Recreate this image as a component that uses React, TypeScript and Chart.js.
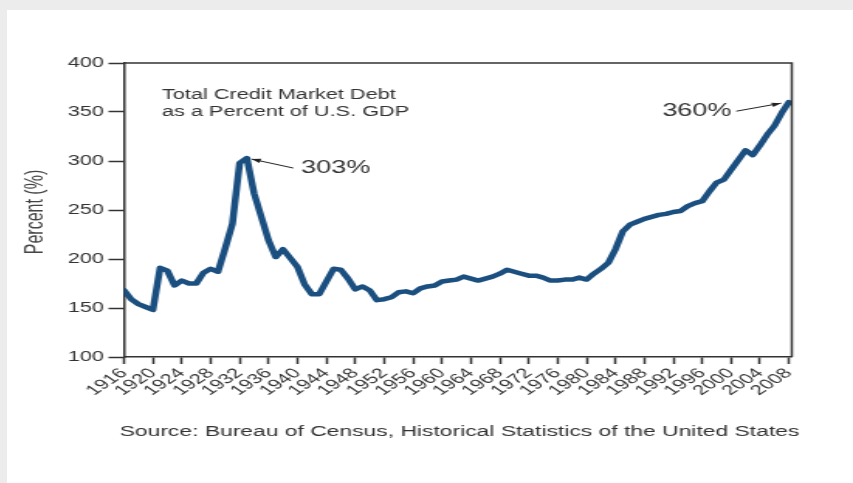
import React, { useEffect, useRef } from "react";
import { Chart, registerables } from "chart.js";

Chart.register(...registerables);

const years = [
  1916, 1917, 1918, 1919, 1920, 1921, 1922, 1923, 1924, 1925,
  1926, 1927, 1928, 1929, 1930, 1931, 1932, 1933, 1934, 1935,
  1936, 1937, 1938, 1939, 1940, 1941, 1942, 1943, 1944, 1945,
  1946, 1947, 1948, 1949, 1950, 1951, 1952, 1953, 1954, 1955,
  1956, 1957, 1958, 1959, 1960, 1961, 1962, 1963, 1964, 1965,
  1966, 1967, 1968, 1969, 1970, 1971, 1972, 1973, 1974, 1975,
  1976, 1977, 1978, 1979, 1980, 1981, 1982, 1983, 1984, 1985,
  1986, 1987, 1988, 1989, 1990, 1991, 1992, 1993, 1994, 1995,
  1996, 1997, 1998, 1999, 2000, 2001, 2002, 2003, 2004, 2005,
  2006, 2007, 2008,
];

const debtPctGdp = [
  168, 159, 154, 151, 148, 191, 188, 173, 178, 175,
  175, 186, 190, 187, 211, 236, 298, 303, 267, 243,
  219, 202, 210, 201, 192, 174, 164, 164, 177, 190,
  189, 180, 169, 172, 168, 158, 159, 161, 166, 167,
  165, 170, 172, 173, 177, 178, 179, 182, 180, 178,
  180, 182, 185, 189, 187, 185, 183, 183, 181, 178,
  178, 179, 179, 181, 179, 185, 190, 196, 210, 228,
  235, 238, 241, 243, 245, 246, 248, 249, 254, 257,
  259, 269, 278, 281, 291, 301, 311, 306, 316, 327,
  336, 349, 360,
];

const yTickValues = [100, 150, 200, 250, 300, 350, 400];

const xTickYears = [
  1916, 1920, 1924, 1928, 1932, 1936, 1940, 1944, 1948, 1952, 1956, 1960,
  1964, 1968, 1972, 1976, 1980, 1984, 1988, 1992, 1996, 2000, 2004, 2008,
];

const titleLines = ["Total Credit Market Debt", "as a Percent of U.S. GDP"];
const peakLabel = { year: 1933, value: 303, text: "303%" };
const endLabel = { year: 2008, value: 360, text: "360%" };
const yAxisTitle = "Percent (%)";
const sourceText = "Source: Bureau of Census, Historical Statistics of the United States";

const STRETCH = 1.55;
const PANEL_W = 846;
const PANEL_H = 473;
const CANVAS_W = Math.round(PANEL_W / STRETCH);
const FONT = "'Liberation Sans', Arial, Helvetica, sans-serif";
const TEXT = "#333333";
const LINE = "#1b4f80";

function arrow(ctx: CanvasRenderingContext2D, x1: number, y1: number, x2: number, y2: number) {
  ctx.save();
  ctx.strokeStyle = "#222";
  ctx.fillStyle = "#222";
  ctx.lineWidth = 1;
  ctx.beginPath();
  ctx.moveTo(x1, y1);
  ctx.lineTo(x2, y2);
  ctx.stroke();
  const a = Math.atan2(y2 - y1, x2 - x1);
  const len = 6;
  const w = 2.2;
  ctx.beginPath();
  ctx.moveTo(x2, y2);
  ctx.lineTo(x2 - len * Math.cos(a) + w * Math.sin(a), y2 - len * Math.sin(a) - w * Math.cos(a));
  ctx.lineTo(x2 - len * Math.cos(a) - w * Math.sin(a), y2 - len * Math.sin(a) + w * Math.cos(a));
  ctx.closePath();
  ctx.fill();
  ctx.restore();
}

const decorPlugin = {
  id: "decor",
  afterDraw(chart: any) {
    const { ctx, chartArea, scales } = chart;
    const xs = scales.x;
    const ys = scales.y;
    ctx.save();
    // frame top & right
    ctx.strokeStyle = "#333";
    ctx.lineWidth = 1.5;
    ctx.beginPath();
    ctx.moveTo(chartArea.left, chartArea.top);
    ctx.lineTo(chartArea.right, chartArea.top);
    ctx.lineTo(chartArea.right, chartArea.bottom);
    ctx.stroke();

    // in-chart title
    ctx.fillStyle = TEXT;
    ctx.font = `14px ${FONT}`;
    ctx.textAlign = "left";
    ctx.textBaseline = "alphabetic";
    ctx.fillText(titleLines[0], chartArea.left + 24.5, chartArea.top + 36);
    ctx.fillText(titleLines[1], chartArea.left + 24.5, chartArea.top + 53);

    // peak annotation
    const px = xs.getPixelForValue(peakLabel.year) + 3;
    const py = ys.getPixelForValue(peakLabel.value) + 1;
    arrow(ctx, px + 27, py + 9, px, py);
    ctx.fillStyle = TEXT;
    ctx.font = `17.5px ${FONT}`;
    ctx.textBaseline = "middle";
    ctx.textAlign = "left";
    ctx.fillText(peakLabel.text, px + 32, py + 9);

    // end annotation
    const ex = xs.getPixelForValue(endLabel.year) - 5;
    const ey = ys.getPixelForValue(endLabel.value) + 1;
    arrow(ctx, ex - 29, ey + 8, ex, ey);
    ctx.fillStyle = TEXT;
    ctx.textAlign = "right";
    ctx.fillText(endLabel.text, ex - 32, ey + 8);

    // y axis title
    ctx.save();
    ctx.translate(19, (chartArea.top + chartArea.bottom) / 2 + 2);
    ctx.rotate(-Math.PI / 2);
    ctx.font = `16px ${FONT}`;
    ctx.fillStyle = "#444";
    ctx.textAlign = "center";
    ctx.textBaseline = "middle";
    ctx.fillText(yAxisTitle, 0, 0);
    ctx.restore();

    // source
    ctx.font = `14.75px ${FONT}`;
    ctx.fillStyle = TEXT;
    ctx.textAlign = "center";
    ctx.textBaseline = "alphabetic";
    ctx.fillText(sourceText, (chartArea.left + chartArea.right) / 2 + 1, chartArea.bottom + 79);
    ctx.restore();
  },
};

export default function App() {
  const ref = useRef<HTMLCanvasElement | null>(null);
  useEffect(() => {
    if (!ref.current) return;
    const chart = new Chart(ref.current, {
      type: "line",
      data: {
        datasets: [
          {
            data: years.map((y, i) => ({ x: y, y: debtPctGdp[i] })),
            borderColor: LINE,
            backgroundColor: LINE,
            borderWidth: 4.5,
            pointRadius: 0,
            tension: 0,
            borderJoinStyle: "round",
            borderCapStyle: "round",
            fill: false,
          },
        ],
      },
      options: {
        animation: false,
        responsive: false,
        maintainAspectRatio: false,
        devicePixelRatio: 1,
        events: [],
        layout: { padding: { left: 0, right: CANVAS_W - 506.5, top: 53, bottom: 0 } },
        plugins: { legend: { display: false }, tooltip: { enabled: false }, title: { display: false } },
        scales: {
          x: {
            type: "linear",
            min: 1916,
            max: 2008.4,
            afterBuildTicks: (s: any) => {
              s.ticks = xTickYears.map((v) => ({ value: v }));
            },
            afterFit: (s: any) => {
              s.height = PANEL_H - 347;
            },
            grid: { drawOnChartArea: false, drawTicks: true, tickLength: 7, tickWidth: 1.5, tickColor: "#333" },
            border: { display: true, color: "#333", width: 1.5 },
            ticks: {
              autoSkip: false,
              maxRotation: 45,
              minRotation: 45,
              padding: 1,
              color: TEXT,
              font: { family: FONT, size: 14 },
              callback: (v: any) => String(v),
            },
          },
          y: {
            type: "linear",
            min: 100,
            max: 400,
            afterBuildTicks: (s: any) => {
              s.ticks = yTickValues.map((v) => ({ value: v }));
            },
            afterFit: (s: any) => {
              s.width = 75.5;
            },
            grid: { drawOnChartArea: false, drawTicks: true, tickLength: 10, tickWidth: 1.5, tickColor: "#333" },
            border: { display: true, color: "#333", width: 1.5 },
            ticks: {
              padding: 3,
              color: TEXT,
              font: { family: FONT, size: 14 },
              callback: (v: any) => String(v),
            },
          },
        },
      },
      plugins: [decorPlugin],
    } as any);
    return () => chart.destroy();
  }, []);

  return (
    <div style={{ position: "fixed", inset: 0, background: "#ececec" }}>
      <div
        style={{
          position: "absolute",
          left: 7,
          top: 10,
          width: PANEL_W,
          height: PANEL_H,
          background: "#ffffff",
        }}
      >
        <canvas
          ref={ref}
          width={CANVAS_W}
          height={PANEL_H}
          style={{ width: `${PANEL_W}px`, height: `${PANEL_H}px`, display: "block" }}
        />
      </div>
    </div>
  );
}
